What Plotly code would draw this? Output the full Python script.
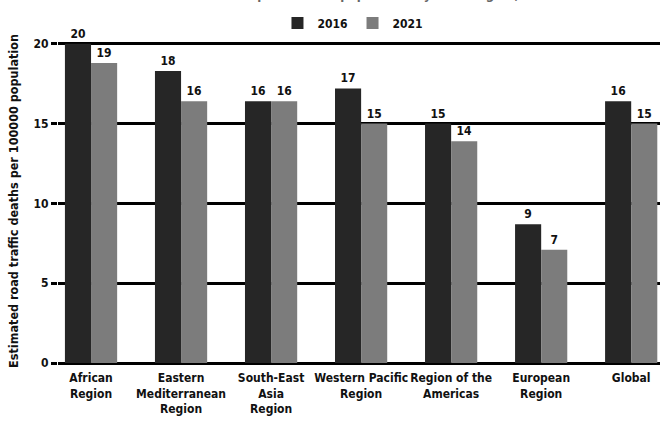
import plotly.graph_objects as go

regions = ["African<br>Region", "Eastern<br>Mediterranean<br>Region", "South-East<br>Asia<br>Region",
           "Western Pacific<br>Region", "Region of the<br>Americas", "European<br>Region", "Global"]
deaths_2016 = [20.0, 18.3, 16.4, 17.2, 15.0, 8.7, 16.4]
deaths_2021 = [18.8, 16.4, 16.4, 15.0, 13.9, 7.1, 15.0]
labels_2016 = ["20", "18", "16", "17", "15", "9", "16"]
labels_2021 = ["19", "16", "16", "15", "14", "7", "15"]
y_ticks = [0, 5, 10, 15, 20]

FONT = "DejaVu Sans Condensed, DejaVu Sans"

fig = go.Figure()
fig.add_trace(go.Bar(
    x=regions, y=deaths_2016, name="2016",
    marker=dict(color="#262626", line=dict(width=0)),
    text=labels_2016, textposition="outside", cliponaxis=False,
    textfont=dict(family=FONT, size=12, color="#111", weight=700),
))
fig.add_trace(go.Bar(
    x=regions, y=deaths_2021, name="2021",
    marker=dict(color="#7c7c7c", line=dict(width=0)),
    text=labels_2021, textposition="outside", cliponaxis=False,
    textfont=dict(family=FONT, size=12, color="#111", weight=700),
))

# title of the original is cut off at the top of the image, only its lower edge shows
fig.add_annotation(
    text="Estimated road traffic deaths per 100 000 population by WHO region, 2016 and 2021",
    xref="paper", yref="paper", x=0.47, y=1.137, yanchor="middle", showarrow=False,
    font=dict(family=FONT, size=13, color="#666", weight=700),
)

fig.update_layout(
    width=660, height=425,
    margin=dict(l=58, r=0, t=39, b=62),
    paper_bgcolor="white", plot_bgcolor="white",
    barmode="group", bargap=0.42, bargroupgap=0,
    font=dict(family=FONT, color="#111", weight=700),
    legend=dict(orientation="h", x=0.49, xanchor="center", y=1.049, yanchor="middle",
                font=dict(family=FONT, size=12, weight=700), itemwidth=30,
                traceorder="normal"),
    xaxis=dict(range=[-0.367, 6.32], showgrid=False, showline=False, ticks="", automargin=False,
               ticklabelstandoff=6, tickangle=0,
               tickfont=dict(family=FONT, size=12, color="#111", weight=700)),
    yaxis=dict(range=[0, 20.3], tickvals=y_ticks, showgrid=True, gridcolor="black", gridwidth=3,
               zeroline=True, zerolinecolor="black", zerolinewidth=3,
               ticks="outside", ticklen=6, tickwidth=3, tickcolor="black", automargin=False,
               tickfont=dict(family=FONT, size=12, color="#111", weight=700),
               title=dict(text="Estimated road traffic deaths per 100000 population", standoff=12,
                          font=dict(family=FONT, size=12.5, color="#111", weight=700))),
)

fig.write_html("out.html", config={"displayModeBar": False},
               post_script="document.body.style.margin='0px';")
